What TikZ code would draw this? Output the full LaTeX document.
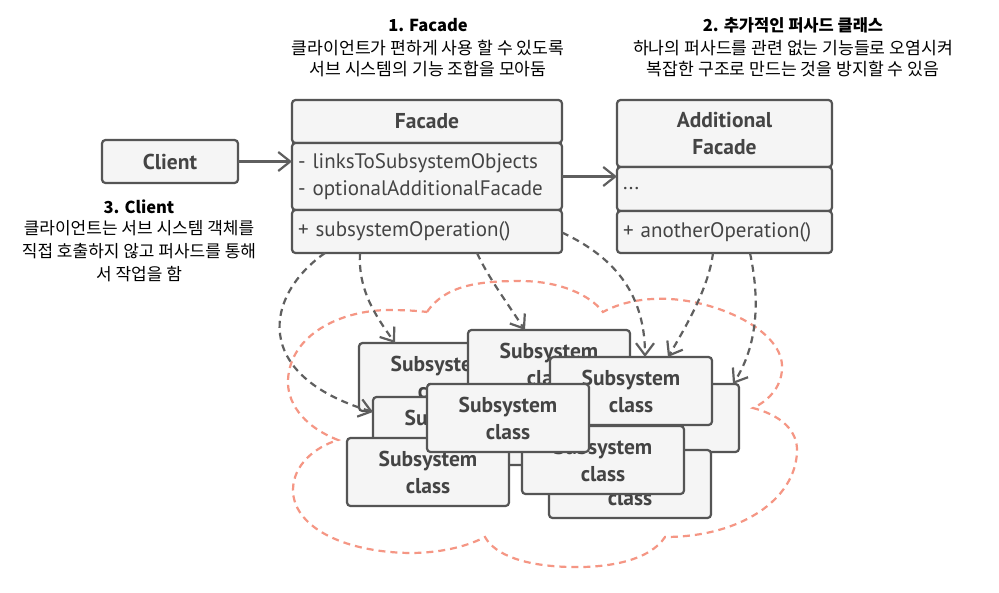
\documentclass[tikz,border=0pt]{standalone}
\usepackage{fontspec}
\setmainfont{PT Sans}
\newfontfamily\kr{Noto Sans CJK KR}
\usetikzlibrary{arrows.meta,calc}
\definecolor{boxfill}{RGB}{245,245,245}
\definecolor{boxline}{RGB}{85,85,85}
\definecolor{boxtext}{RGB}{68,68,68}
\definecolor{arrowgray}{RGB}{95,95,95}
\definecolor{cloudcol}{RGB}{245,150,132}
\begin{document}
\begin{tikzpicture}[x=1pt,y=-1pt,
  box/.style={draw=boxline, fill=boxfill, line width=2.2pt, rounded corners=3.5pt,
    anchor=north west, inner sep=0pt, outer sep=0pt, text=boxtext},
  subbox/.style={box, minimum width=162pt, minimum height=68pt,
    font=\bfseries\fontsize{21.5}{27}\selectfont, align=center},
  headbox/.style={box, font=\bfseries\fontsize{21.5}{27}\selectfont, align=center},
  listbox/.style={box, font=\fontsize{21}{27}\selectfont, align=left, inner xsep=6pt},
  solidarrow/.style={draw=arrowgray, line width=2.2pt, -{Straight Barb[length=12pt,width=19pt]}},
  dasharrow/.style={draw=arrowgray, line width=2.2pt, dash pattern=on 7pt off 5pt,
    -{Straight Barb[length=12pt,width=18pt]}},
  cloudline/.style={draw=cloudcol, line width=2.2pt, dash pattern=on 7pt off 5pt},
  titletext/.style={font=\kr\bfseries\fontsize{16.5}{20}\selectfont, text=black, inner sep=0pt},
  desctext/.style={font=\kr\fontsize{17.2}{21.5}\selectfont, text=black, align=center, inner sep=0pt}
]
\useasboundingbox (0,0) rectangle (999,592);
\fill[white] (0,0) rectangle (999,592);

% cloud (subsystem boundary)
\draw[cloudline] (427,312) .. controls (445,285) and (480,281) .. (520,281)
  .. controls (560,281) and (590,295) .. (603,312)
  .. controls (625,300) and (650,298) .. (670,299)
  .. controls (720,302) and (780,330) .. (782,365)
  .. controls (783,385) and (770,400) .. (753,408)
  .. controls (780,415) and (798,430) .. (797,452)
  .. controls (795,500) and (740,537) .. (665,537)
  .. controls (650,560) and (610,568) .. (570,567)
  .. controls (525,566) and (495,555) .. (485,537)
  .. controls (460,550) and (430,553) .. (410,553)
  .. controls (340,552) and (293,525) .. (293,490)
  .. controls (293,465) and (315,447) .. (338,440)
  .. controls (300,425) and (287,400) .. (288,380)
  .. controls (290,335) and (340,310) .. (390,310)
  .. controls (405,310) and (420,311) .. (427,312);

% titles
\node[titletext] (t1) at (428,25) {1. Facade};
\node[desctext] (d1) at (428,58.5) {클라이언트가 편하게 사용 할 수 있도록\\서브 시스템의 기능 조합을 모아둠};
\node[titletext] (t2) at (793,25) {2. 추가적인 퍼사드 클래스};
\node[desctext] (d2) at (793,58.5) {하나의 퍼사드를 관련 없는 기능들로 오염시켜\\복잡한 구조로 만드는 것을 방지할 수 있음};
\node[titletext] (t3) at (139,207) {3. Client};
\node[desctext, font=\kr\fontsize{17}{23}\selectfont] (d3) at (139,251) {클라이언트는 서브 시스템 객체를\\직접 호출하지 않고 퍼사드를 통해\\서 작업을 함};

% client
\node[headbox, minimum width=136pt, minimum height=43pt] (Client) at (102,140) {Client};

% facade
\node[headbox, minimum width=270pt, minimum height=43pt] (FacH) at (292,100) {Facade};
\node[listbox, minimum width=270pt, minimum height=67pt, text width=258pt] (FacA) at (292,143) {- linksToSubsystemObjects\\- optionalAdditionalFacade};
\node[listbox, minimum width=270pt, minimum height=43pt, text width=258pt] (FacM) at (292,210) {+ subsystemOperation()};

% additional facade
\node[headbox, minimum width=215pt, minimum height=67pt] (AddH) at (617,100) {Additional\\Facade};
\node[listbox, minimum width=215pt, minimum height=44pt, text width=203pt] (AddA) at (617,167) {...};
\node[listbox, minimum width=215pt, minimum height=42pt, text width=203pt] (AddM) at (617,211) {+ anotherOperation()};

% subsystem classes (back to front)
\node[subbox] (A) at (359,343) {Subsystem\\class};
\node[subbox] (B) at (468,330) {Subsystem\\class};
\node[subbox] (D) at (577,384) {Subsystem\\class};
\node[subbox] (I) at (549,450) {Subsystem\\class};
\node[subbox] (E) at (373,397) {Subsystem\\class};
\node[subbox] (C) at (550,357) {Subsystem\\class};
\node[subbox] (H) at (522,426) {Subsystem\\class};
\node[subbox] (G) at (347,438) {Subsystem\\class};
\node[subbox] (F) at (427,384) {Subsystem\\class};

% solid associations
\draw[solidarrow] (Client.east) -- (Client.east -| FacA.west);
\draw[solidarrow] (FacA.east) -- (FacA.east -| AddA.west);

% dashed dependencies
\draw[dasharrow] ($(FacM.south west)+(33,0)$) .. controls (265,295) and (250,375) .. ($(E.north west)+(0,15)$);
\draw[dasharrow] ($(FacM.south west)+(68,0)$) .. controls (358,290) and (375,315) .. ($(A.north west)+(36,0)$);
\draw[dasharrow] ($(FacM.south west)+(185,0)$) .. controls (487,275) and (505,300) .. ($(B.north west)+(57,0)$);
\draw[dasharrow] ($(FacM.east)+(0,1)$) .. controls (610,255) and (645,290) .. ($(C.north west)+(95,0)$);
\draw[dasharrow] ($(AddM.south west)+(96,0)$) .. controls (709,285) and (690,320) .. ($(C.north west)+(118,0)$);
\draw[dasharrow] ($(AddM.south west)+(133,0)$) .. controls (760,300) and (758,345) .. ($(D.north west)+(156,0)$);
\end{tikzpicture}
\end{document}
